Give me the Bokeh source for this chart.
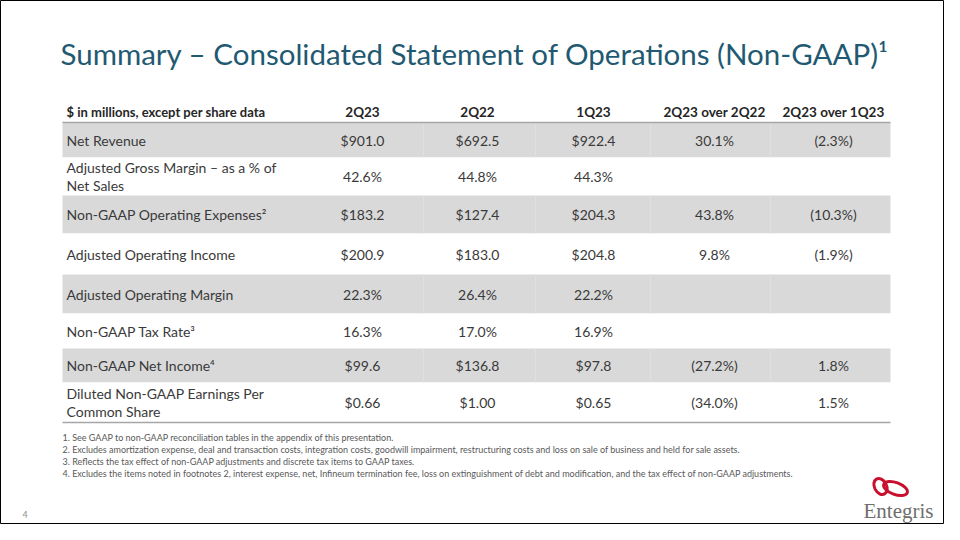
from bokeh.plotting import figure
from bokeh.models import Range1d
from bokeh.core.properties import value
from bokeh.embed import file_html
from bokeh.resources import INLINE

# ---------------- data ----------------
title_text = "Summary – Consolidated Statement of Operations (Non-GAAP)¹"
header_label = "$ in millions, except per share data"
columns = ["2Q23", "2Q22", "1Q23", "2Q23 over 2Q22", "2Q23 over 1Q23"]

metrics = [
    "Net Revenue",
    "Adjusted Gross Margin – as a % of\nNet Sales",
    "Non-GAAP Operating Expenses²",
    "Adjusted Operating Income",
    "Adjusted Operating Margin",
    "Non-GAAP Tax Rate³",
    "Non-GAAP Net Income⁴",
    "Diluted Non-GAAP Earnings Per\nCommon Share",
]
row_kind = ["usd1", "pct", "usd1", "usd1", "pct", "pct", "usd1", "usd2"]

q2_23 = [901.0, 42.6, 183.2, 200.9, 22.3, 16.3, 99.6, 0.66]
q2_22 = [692.5, 44.8, 127.4, 183.0, 26.4, 17.0, 136.8, 1.00]
q1_23 = [922.4, 44.3, 204.3, 204.8, 22.2, 16.9, 97.8, 0.65]
chg_yoy = [30.1, None, 43.8, 9.8, None, None, -27.2, -34.0]
chg_qoq = [-2.3, None, -10.3, -1.9, None, None, 1.8, 1.5]

footnotes = [
    "1. See GAAP to non-GAAP reconciliation tables in the appendix of this presentation.",
    "2. Excludes amortization expense, deal and transaction costs, integration costs, goodwill impairment, restructuring costs and loss on sale of business and held for sale assets.",
    "3. Reflects the tax effect of non-GAAP adjustments and discrete tax items to GAAP taxes.",
    "4. Excludes the items noted in footnotes 2, interest expense, net, Infineum termination fee, loss on extinguishment of debt and modification, and the tax effect of non-GAAP adjustments.",
]
page_number = "4"
logo_text = "Entegris"


def fmt_val(v, kind):
    if v is None:
        return ""
    if kind == "usd1":
        return f"${v:.1f}"
    if kind == "usd2":
        return f"${v:.2f}"
    return f"{v:.1f}%"


def fmt_chg(v):
    if v is None:
        return ""
    return f"({abs(v):.1f}%)" if v < 0 else f"{v:.1f}%"


# ---------------- layout ----------------
FONT = value("Lato")
W, H = 944, 524
p = figure(width=W, height=H, output_backend="svg", toolbar_location=None,
           x_range=Range1d(0, W), y_range=Range1d(H, 0),
           x_axis_type=None, y_axis_type=None, min_border=0,
           background_fill_color="white", border_fill_color="white")
p.grid.visible = False
p.outline_line_color = "#000000"
p.outline_line_width = 1

TL, TR = 62, 890
row_edges = [122, 157, 195, 233, 274, 313, 348, 382, 422]
col_x = [362, 477, 593, 714, 833]
col_bounds = [305, 423, 535, 650, 770]

# row backgrounds
tops = row_edges[:-1]
bots = row_edges[1:]
fills = ["#D9D9D9" if i % 2 == 0 else "#FFFFFF" for i in range(len(metrics))]
p.quad(left=TL, right=TR, top=tops, bottom=bots, fill_color=fills, line_color=None)

# faint column separators in shaded rows
for i in range(0, len(metrics), 2):
    p.segment(x0=col_bounds[1:], x1=col_bounds[1:], y0=tops[i], y1=bots[i],
              line_color="#E0E0E0", line_width=1)

# header rule and bottom rule
p.segment(x0=[TL, TL], x1=[TR, TR], y0=[row_edges[0], row_edges[-1]],
          y1=[row_edges[0], row_edges[-1]], line_color="#A6A6A6", line_width=1.5)

# title
p.text(x=[60], y=[53], text=[title_text], text_font=FONT, text_font_size="29.5px",
       text_color="#1F5A72", text_baseline="alphabetic", text_align="left")

# header row
p.text(x=[66], y=[111], text=[header_label], text_font=FONT, text_font_size="13px",
       text_font_style="bold", text_color="#262626", text_baseline="middle")
p.text(x=col_x, y=[111] * len(columns), text=columns, text_font=FONT,
       text_font_size="13.5px", text_font_style="bold", text_color="#262626",
       text_baseline="middle", text_align="center")

# body
centers = [(a + b) / 2 for a, b in zip(tops, bots)]
p.text(x=[66] * len(metrics), y=centers, text=metrics, text_font=FONT,
       text_font_size="14px", text_color="#3A3A3A", text_baseline="middle",
       text_align="left", text_line_height=1.05)

series = [
    [fmt_val(v, k) for v, k in zip(q2_23, row_kind)],
    [fmt_val(v, k) for v, k in zip(q2_22, row_kind)],
    [fmt_val(v, k) for v, k in zip(q1_23, row_kind)],
    [fmt_chg(v) for v in chg_yoy],
    [fmt_chg(v) for v in chg_qoq],
]
for cx, vals in zip(col_x, series):
    p.text(x=[cx] * len(vals), y=centers, text=vals, text_font=FONT,
           text_font_size="14px", text_color="#3A3A3A", text_baseline="middle",
           text_align="center")

# footnotes
fy = [437 + 12 * i for i in range(len(footnotes))]
p.text(x=[62] * len(footnotes), y=fy, text=footnotes, text_font=FONT,
       text_font_size="9px", text_color="#595959", text_baseline="middle")

# page number
p.text(x=[22], y=[514], text=[page_number], text_font=FONT, text_font_size="9px",
       text_color="#8C8C8C", text_baseline="middle", text_align="left")

# logo
p.ellipse(x=[880], y=[486], width=[12], height=[17], angle=[0.5],
          fill_color=None, line_color="#C8102E", line_width=3)
p.ellipse(x=[895], y=[488], width=[25], height=[12], angle=[-0.35],
          fill_color=None, line_color="#C8102E", line_width=3)
p.text(x=[898], y=[510], text=[logo_text], text_font=value("Liberation Serif"),
       text_font_size="21px", text_color="#6E6E6E", text_baseline="alphabetic",
       text_align="center")

open("out.html", "w").write(file_html(p, INLINE))
